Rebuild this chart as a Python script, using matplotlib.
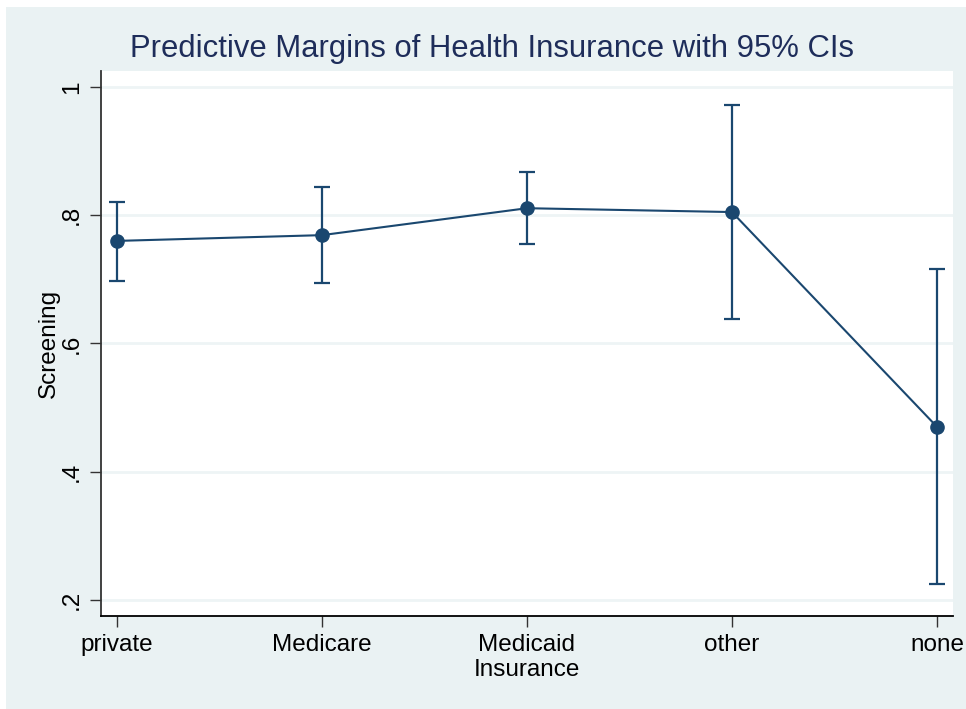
import matplotlib
matplotlib.use("Agg")
import matplotlib.pyplot as plt
import numpy as np
from matplotlib.patches import Rectangle

plt.rcParams['font.family'] = ['Liberation Sans', 'DejaVu Sans']

# predictive margins with 95% CIs
categories = ["private", "Medicare", "Medicaid", "other", "none"]
margin = [0.760, 0.769, 0.811, 0.805, 0.470]
ci_low = [0.698, 0.694, 0.755, 0.638, 0.225]
ci_high = [0.821, 0.844, 0.867, 0.972, 0.716]
yticks = [0.2, 0.4, 0.6, 0.8, 1.0]
ytick_labels = [".2", ".4", ".6", ".8", "1"]

navy = "#1a476f"
bg = "#eaf2f3"

W, H = 966, 709
fig = plt.figure(figsize=(W / 100, H / 100), dpi=100, facecolor="white")
fig.patches.append(Rectangle((6 / W, 0), 1 - 6 / W, 1 - 7 / H,
                             transform=fig.transFigure, facecolor=bg,
                             edgecolor="none", zorder=-10))

ax = fig.add_axes([101 / W, 1 - 616 / H, (953 - 101) / W, (616 - 71) / H])
ax.set_facecolor("white")

x = np.arange(1, len(categories) + 1)
m = np.array(margin)
lo = np.array(ci_low)
hi = np.array(ci_high)

ax.errorbar(x, m, yerr=[m - lo, hi - m], fmt="none", ecolor=navy,
            elinewidth=1.6, capsize=6, capthick=1.6, zorder=3)
ax.plot(x, m, color=navy, lw=1.5, marker="o", markersize=9.5, zorder=4)

ax.set_xlim(0.922, 5.078)
ax.set_ylim(0.175, 1.025)
ax.set_yticks(yticks)
ax.set_yticklabels(ytick_labels, rotation=90, va="center", fontsize=17.5)
ax.set_xticks(x)
xlabels = list(categories)
xlabels[2] = "Medicaid\nInsurance"
ax.set_xticklabels(xlabels, fontsize=17.5, linespacing=1.15)
ax.grid(axis="y", color="#eef4f5", lw=2)
ax.set_axisbelow(True)
ax.tick_params(axis="both", direction="out", length=8, width=1, color="#333333", pad=5)

for s in ["top", "right"]:
    ax.spines[s].set_visible(False)
ax.spines["left"].set_color("#333333")
ax.spines["bottom"].set_color("#000000")
ax.spines["left"].set_linewidth(1.3)
ax.spines["bottom"].set_linewidth(1.3)

ax.set_ylabel("Screening", fontsize=17.5, labelpad=1)
fig.text(492 / W, 1 - 49 / H, "Predictive Margins of Health Insurance with 95% CIs",
         ha="center", va="center", fontsize=22.3, color="#1e2d5a")

fig.savefig("out.png", dpi=100, facecolor="white")
